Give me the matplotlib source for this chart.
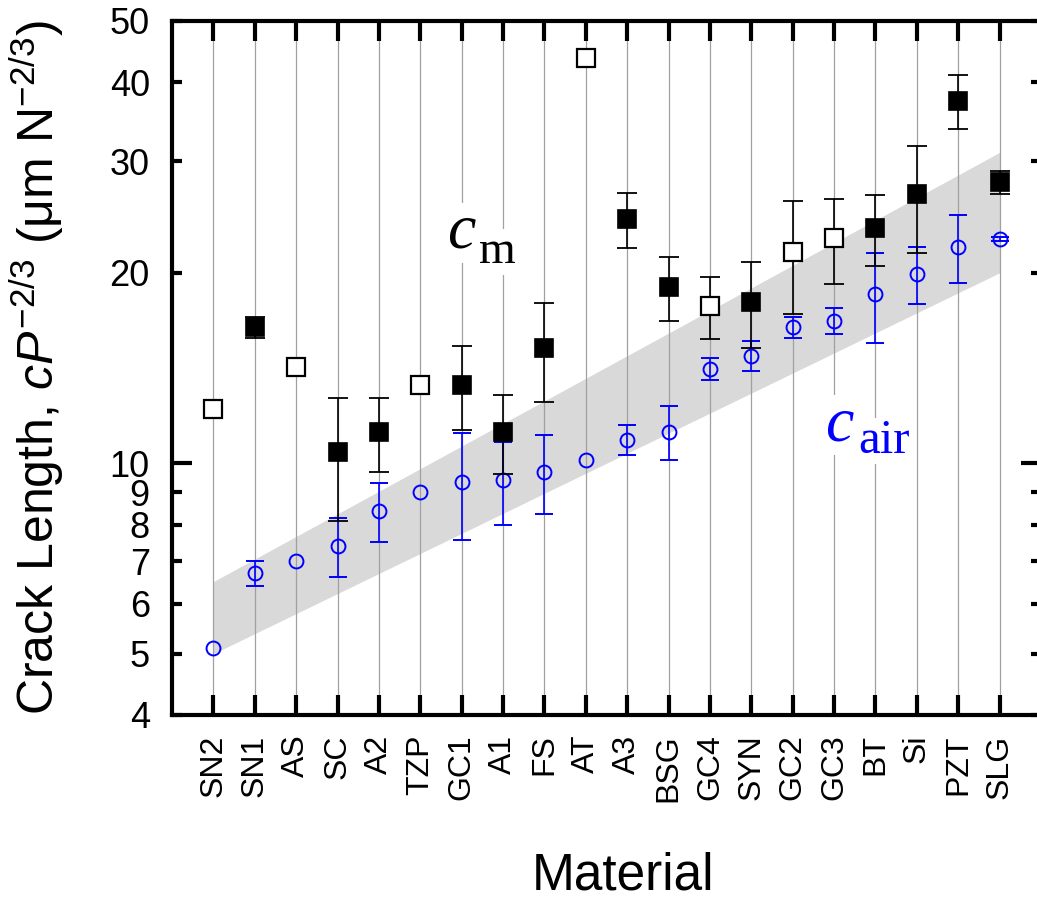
import numpy as np
import matplotlib
matplotlib.use('Agg')
import matplotlib.pyplot as plt

plt.rcParams['font.family'] = ['Liberation Sans', 'DejaVu Sans']
plt.rcParams['mathtext.fontset'] = 'custom'
plt.rcParams['mathtext.rm'] = 'Liberation Sans'
plt.rcParams['mathtext.it'] = 'Liberation Sans:italic'

materials = ['SN2', 'SN1', 'AS', 'SC', 'A2', 'TZP', 'GC1', 'A1', 'FS', 'AT',
             'A3', 'BSG', 'GC4', 'SYN', 'GC2', 'GC3', 'BT', 'Si', 'PZT', 'SLG']

# crack length in medium (squares), filled = True for solid squares
c_m = [12.2, 16.4, 14.2, 10.4, 11.2, 13.3, 13.3, 11.2, 15.2, 43.7,
       24.3, 19.0, 17.7, 18.0, 21.6, 22.7, 23.5, 26.6, 37.4, 27.8]
c_m_err = [np.nan, 0.65, np.nan, 2.3, 1.5, np.nan, 2.0, 1.6, 2.7, np.nan,
           2.4, 2.2, 2.0, 2.8, 4.4, 3.5, 3.0, 5.1, 3.7, 1.2]
c_m_filled = [False, True, False, True, True, False, True, True, True, False,
              True, True, False, True, False, False, True, True, True, True]

# crack length in air (circles)
c_air = [5.1, 6.7, 7.0, 7.4, 8.4, 9.0, 9.35, 9.4, 9.7, 10.1,
         10.9, 11.2, 14.1, 14.8, 16.4, 16.8, 18.5, 19.9, 22.0, 22.6]
c_air_err = [np.nan, 0.3, np.nan, 0.8, 0.9, np.nan, 1.8, 1.4, 1.4, np.nan,
             0.6, 1.1, 0.57, 0.8, 0.65, 0.8, 3.0, 2.05, 2.7, 0.15]

# grey band (from first to last material)
band_ends = ['SN2', 'SLG']
band_lo = [5.0, 20.0]
band_hi = [6.5, 31.0]

y_major = [10]
y_minor = [4, 5, 6, 7, 8, 9, 20, 30, 40, 50]

x = np.arange(len(materials))
c_m = np.array(c_m)
c_m_err = np.array(c_m_err)
c_air = np.array(c_air)
c_air_err = np.array(c_air_err)
filled = np.array(c_m_filled)

fig = plt.figure(figsize=(10.37, 9.0), dpi=100)
ax = fig.add_axes([172/1037, 185/900, 869/1037, 694/900])

bx = [materials.index(b) for b in band_ends]
ax.fill_between(bx, band_lo, band_hi, color='#d9d9d9', lw=0, zorder=0.3)

# c_air circles with error bars
m = ~np.isnan(c_air_err)
ax.errorbar(x[m], c_air[m], yerr=c_air_err[m], fmt='none', ecolor='blue',
            elinewidth=1.2, capsize=6.5, capthick=1.4, zorder=3)
ax.plot(x, c_air, 'o', ms=10, mfc='none', mec='blue', mew=1.4, zorder=4)

# c_m squares with error bars
m = ~np.isnan(c_m_err)
ax.errorbar(x[m], c_m[m], yerr=c_m_err[m], fmt='none', ecolor='black',
            elinewidth=1.2, capsize=7.2, capthick=1.3, zorder=5)
ax.plot(x[filled], c_m[filled], 's', ms=13.5, mfc='black', mec='black', mew=1.2, zorder=6)
ax.plot(x[~filled], c_m[~filled], 's', ms=13, mfc='white', mec='black', mew=1.6, zorder=6)

ax.set_yscale('log')
ax.set_ylim(4, 50)
ax.set_xlim(-1, len(materials))
ax.set_yticks(y_major, labels=[str(v) for v in y_major])
ax.set_yticks(y_minor, labels=[str(v) for v in y_minor], minor=True)
ax.set_xticks(x, labels=materials, rotation=90)

ax.set_axisbelow(True)
ax.grid(axis='x', color='#a0a0a0', lw=0.9)

for sp in ax.spines.values():
    sp.set_linewidth(3)
ax.tick_params(axis='both', which='both', direction='in', width=3,
               top=True, right=True)
ax.tick_params(axis='x', length=14.4, labelsize=23, pad=14)
ax.tick_params(axis='y', which='major', length=14.4, labelsize=26, pad=16)
ax.tick_params(axis='y', which='minor', length=7.2, labelsize=26, pad=16)

ax.set_ylabel(r'Crack Length, $cP^{-2/3}$ ($\mathrm{\mu}$m N$^{-2/3}$)', fontsize=36)
ax.yaxis.set_label_coords((37 - 172) / 869, 0.5)
ax.yaxis.label.set_verticalalignment('center')
ax.set_xlabel('Material', fontsize=37)
ax.xaxis.set_label_coords((623 - 172) / 869, (715 - 890) / 694)
ax.xaxis.label.set_verticalalignment('baseline')

box = dict(facecolor='white', edgecolor='none', pad=1)
ax.text(0.333, 0.673, 'c', transform=ax.transAxes, fontsize=46, family='Liberation Serif',
        style='italic', ha='center', va='baseline', bbox=box, zorder=2)
ax.text(0.353, 0.651, 'm', transform=ax.transAxes, fontsize=34, family='Liberation Serif',
        ha='left', va='baseline', bbox=box, zorder=2)
ax.text(0.768, 0.396, 'c', transform=ax.transAxes, fontsize=46, family='Liberation Serif',
        style='italic', color='blue', ha='center', va='baseline', bbox=box, zorder=2)
ax.text(0.79, 0.3775, 'air', transform=ax.transAxes, fontsize=35, family='Liberation Serif',
        color='blue', ha='left', va='baseline', bbox=box, zorder=2)

fig.savefig('out.png', dpi=100)
